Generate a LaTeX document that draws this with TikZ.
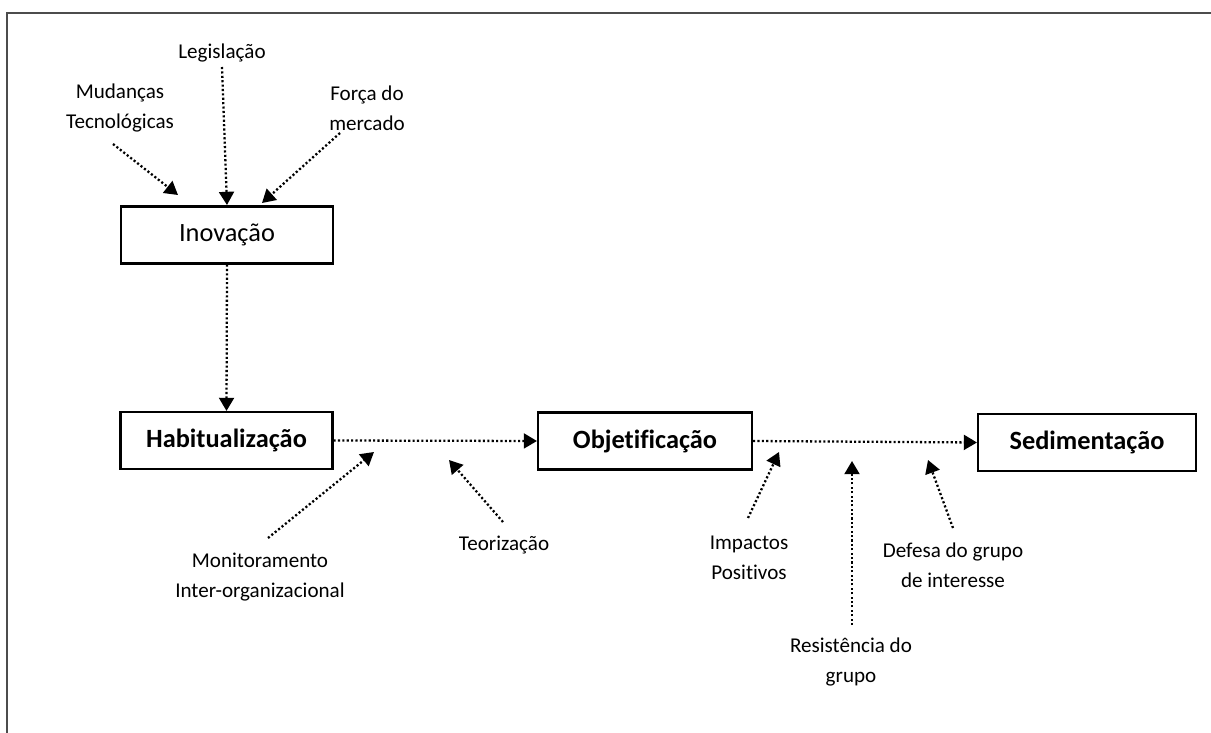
\documentclass[tikz,border=0pt]{standalone}
\usepackage{fontspec}
\setmainfont{Carlito}[Ligatures=NoCommon]
\usepackage{tikz}
\usetikzlibrary{arrows.meta}

\begin{document}
\begin{tikzpicture}[x=0.02cm,y=-0.02cm,
  etapa/.style={draw,line width=1.2pt,minimum width=4.24cm,minimum height=1.14cm,inner sep=0pt,font=\fontsize{15}{18}\selectfont},
  fator/.style={align=center,inner sep=2pt,font=\fontsize{12}{17}\selectfont},
  fluxo/.style={line width=1.3pt,dash pattern=on 1.2pt off 1.3pt,-{Triangle[length=7.5pt,width=8.5pt]}}]
\useasboundingbox (0,0) rectangle (1211,733);
\draw[black!70,line width=1.2pt] (7,733) -- (7,13) -- (1211,13);

\node[etapa] (ino) at (227,235) {Inovação};
\node[etapa,font=\fontsize{15}{18}\selectfont\bfseries] (hab) at (226.5,440.5) {Habitualização};
\node[etapa,font=\fontsize{15}{18}\selectfont\bfseries,minimum width=4.28cm] (obj) at (645,441) {Objetificação};
\node[etapa,font=\fontsize{15}{18}\selectfont\bfseries,minimum width=4.36cm] (sed) at (1087,442.5) {Sedimentação};

\node[fator] (leg) at (222,53) {Legislação};
\node[fator] (mud) at (120,108) {Mudanças\\Tecnológicas};
\node[fator] (for) at (367,108) {Força do\\mercado};
\node[fator] (mon) at (260,577) {Monitoramento\\Inter-organizacional};
\node[fator] (teo) at (504,545) {Teorização};
\node[fator] (imp) at (749,558) {Impactos\\Positivos};
\node[fator] (res) at (851,662) {Resistência do\\grupo};
\node[fator] (def) at (953,565) {Defesa do grupo\\de interesse};

\coordinate (legA) at (222,67);  \coordinate (legB) at (227,205);
\coordinate (mudA) at (113,144); \coordinate (mudB) at (178,195);
\coordinate (forA) at (340,133); \coordinate (forB) at (262,203);
\coordinate (monA) at (268,538); \coordinate (monB) at (374,452);
\coordinate (teoA) at (503,522); \coordinate (teoB) at (449,460);
\coordinate (impA) at (748,518); \coordinate (impB) at (779,452);
\coordinate (resA) at (852,625); \coordinate (resB) at (852,461);
\coordinate (defA) at (953,528); \coordinate (defB) at (928,460);

\draw[fluxo] (legA) -- (legB);
\draw[fluxo] (mudA) -- (mudB);
\draw[fluxo] (forA) -- (forB);
\draw[fluxo] (ino.south) -- (hab.north);
\draw[fluxo] (hab.east) -- (obj.west);
\draw[fluxo] (obj.east) -- (sed.west);
\draw[fluxo] (monA) -- (monB);
\draw[fluxo] (teoA) -- (teoB);
\draw[fluxo] (impA) -- (impB);
\draw[fluxo] (resA) -- (resB);
\draw[fluxo] (defA) -- (defB);
\end{tikzpicture}
\end{document}
